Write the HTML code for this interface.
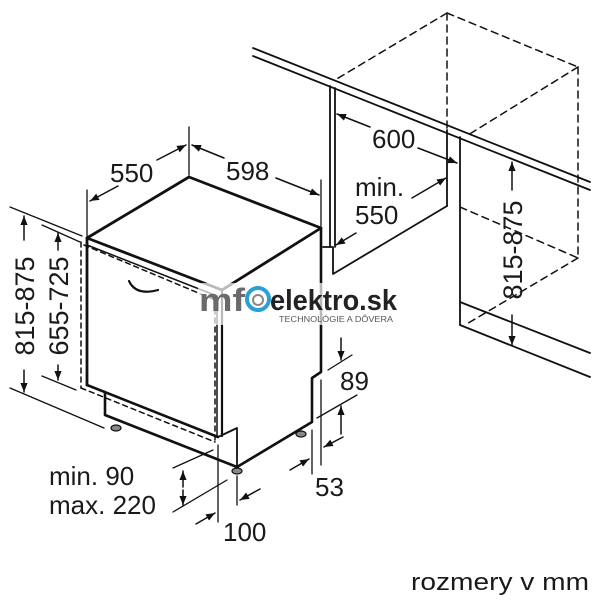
<!DOCTYPE html>
<html><head><meta charset="utf-8"><style>
html,body{margin:0;padding:0;background:#fff}
svg{display:block}
text{font-family:"Liberation Sans",sans-serif;fill:#1a1a1a}
</style></head><body>
<svg width="600" height="600" viewBox="0 0 600 600" xmlns="http://www.w3.org/2000/svg">
<defs>
<marker id="a" viewBox="0 0 10 10" refX="10" refY="5" markerWidth="9" markerHeight="9" orient="auto-start-reverse" markerUnits="userSpaceOnUse"><path d="M0,1 L10,5 L0,9 z" fill="#111"/></marker>
</defs>
<g stroke="#111" fill="none" stroke-linecap="round" stroke-linejoin="round">
<line x1="253" y1="48" x2="590" y2="182" stroke-width="1.8"/>
<line x1="253" y1="56" x2="590" y2="190" stroke-width="1.8"/>
<line x1="330" y1="86" x2="330" y2="247" stroke-width="1.8"/>
<line x1="335" y1="88" x2="335" y2="247" stroke-width="1.8"/>
<polyline points="323,247 333,247 333,274 447,206" stroke-width="1.8"/>
<line x1="447" y1="130" x2="447" y2="206" stroke-width="1.8"/>
<line x1="460" y1="137" x2="460" y2="325" stroke-width="1.8"/>
<line x1="460" y1="302" x2="590" y2="353" stroke-width="1.8"/>
<line x1="460" y1="325" x2="590" y2="377" stroke-width="1.8"/>
<g stroke-dasharray="7,5" stroke-width="1.5">
<line x1="447" y1="13" x2="335" y2="80"/>
<line x1="447" y1="13" x2="578" y2="67"/>
<line x1="447" y1="13" x2="447" y2="128"/>
<line x1="578" y1="67" x2="468" y2="135"/>
<line x1="578" y1="67" x2="578" y2="258"/>
<line x1="460" y1="207" x2="578" y2="258"/>
<line x1="578" y1="258" x2="465" y2="325"/>
</g>
<polygon points="87,238 189,177 321,228 222,290" stroke-width="2.8"/>
<line x1="87" y1="238" x2="87" y2="385" stroke-width="2.8"/>
<line x1="222" y1="290" x2="222" y2="436" stroke-width="2.2"/>
<line x1="217" y1="296" x2="217" y2="436" stroke-width="1.5"/>
<line x1="87" y1="245" x2="217" y2="296" stroke-width="1.5"/>
<line x1="87" y1="385" x2="218" y2="437" stroke-width="2.6"/>
<polyline points="321,228 321,372 312,378 312,422 237,467" stroke-width="2.6"/>
<polyline points="105,392 105,415 237,467" stroke-width="2.6"/>
<polyline points="218,437 237,428 237,466" stroke-width="1.8"/>
<g stroke-dasharray="5,4" stroke-width="1.5">
<line x1="81" y1="242" x2="81" y2="388"/>
<line x1="81" y1="388" x2="215" y2="442"/>
<line x1="215" y1="300" x2="215" y2="442"/>
<line x1="84" y1="245" x2="215" y2="300"/>
</g>
<path d="M129,281 Q136,296 158,290" stroke-width="2.2"/>
<ellipse cx="116" cy="428" rx="5" ry="3" fill="#888" stroke-width="1.2"/>
<ellipse cx="237" cy="471" rx="5" ry="3" fill="#888" stroke-width="1.2"/>
<ellipse cx="301" cy="434" rx="5" ry="3" fill="#888" stroke-width="1.2"/>
<line x1="87" y1="190" x2="87" y2="236" stroke-width="1.3"/>
<line x1="189" y1="127" x2="189" y2="175" stroke-width="1.3"/>
<line x1="321" y1="180" x2="321" y2="226" stroke-width="1.3"/>
<line x1="157" y1="160" x2="186" y2="145" stroke-width="1.5" marker-end="url(#a)"/>
<line x1="118" y1="186" x2="90" y2="201" stroke-width="1.5" marker-end="url(#a)"/>
<line x1="224" y1="158" x2="192" y2="145" stroke-width="1.5" marker-end="url(#a)"/>
<line x1="276" y1="178" x2="319" y2="195" stroke-width="1.5" marker-end="url(#a)"/>
<line x1="10" y1="207" x2="82" y2="236" stroke-width="1.3"/>
<line x1="10" y1="388" x2="104" y2="428" stroke-width="1.3"/>
<line x1="42" y1="225" x2="80" y2="242" stroke-width="1.3"/>
<line x1="42" y1="376" x2="76" y2="390" stroke-width="1.3"/>
<line x1="24" y1="240" x2="24" y2="216" stroke-width="1.5" marker-end="url(#a)"/>
<line x1="24" y1="370" x2="24" y2="392" stroke-width="1.5" marker-end="url(#a)"/>
<line x1="58" y1="250" x2="58" y2="233" stroke-width="1.5" marker-end="url(#a)"/>
<line x1="58" y1="365" x2="58" y2="380" stroke-width="1.5" marker-end="url(#a)"/>
<line x1="370" y1="127" x2="337" y2="114" stroke-width="1.5" marker-end="url(#a)"/>
<line x1="418" y1="148" x2="457" y2="163" stroke-width="1.5" marker-end="url(#a)"/>
<line x1="412" y1="198" x2="446" y2="178" stroke-width="1.5" marker-end="url(#a)"/>
<line x1="356" y1="233" x2="336" y2="245" stroke-width="1.5" marker-end="url(#a)"/>
<line x1="512" y1="190" x2="512" y2="162" stroke-width="1.5" marker-end="url(#a)"/>
<line x1="512" y1="315" x2="512" y2="345" stroke-width="1.5" marker-end="url(#a)"/>
<line x1="341" y1="338" x2="341" y2="360" stroke-width="1.5" marker-end="url(#a)"/>
<line x1="328" y1="370" x2="352" y2="355" stroke-width="1.3"/>
<line x1="317" y1="418" x2="357" y2="395" stroke-width="1.3"/>
<line x1="341" y1="434" x2="341" y2="406" stroke-width="1.5" marker-end="url(#a)"/>
<line x1="312" y1="430" x2="312" y2="474" stroke-width="1.3"/>
<line x1="321" y1="380" x2="321" y2="465" stroke-width="1.3"/>
<line x1="290" y1="470" x2="309" y2="459" stroke-width="1.5" marker-end="url(#a)"/>
<line x1="343" y1="437" x2="324" y2="447" stroke-width="1.5" marker-end="url(#a)"/>
<line x1="173" y1="468" x2="213" y2="450" stroke-width="1.3"/>
<line x1="173" y1="512" x2="227" y2="480" stroke-width="1.3"/>
<line x1="183" y1="487" x2="183" y2="471" stroke-width="1.5" marker-end="url(#a)"/>
<line x1="183" y1="490" x2="183" y2="505" stroke-width="1.5" marker-end="url(#a)"/>
<line x1="218" y1="445" x2="218" y2="522" stroke-width="1.3"/>
<line x1="237" y1="476" x2="237" y2="505" stroke-width="1.3"/>
<line x1="196" y1="524" x2="215" y2="513" stroke-width="1.5" marker-end="url(#a)"/>
<line x1="260" y1="489" x2="240" y2="500" stroke-width="1.5" marker-end="url(#a)"/>
</g>
<rect x="198" y="283" width="200" height="42" fill="#fff" opacity="0.7"/>
<text x="199" y="311" font-size="32" font-weight="bold" style="fill:#6a6a6a" textLength="46" lengthAdjust="spacingAndGlyphs">mf</text>
<circle cx="258" cy="299" r="11" fill="none" stroke="#2a9fd8" stroke-width="4"/>
<circle cx="258" cy="300" r="5" fill="none" stroke="#888" stroke-width="2"/>
<text x="270" y="310" font-size="29" font-weight="bold" style="fill:#222" textLength="127" lengthAdjust="spacingAndGlyphs">elektro.sk</text>
<text x="279" y="322" font-size="8" style="fill:#555" textLength="114" lengthAdjust="spacingAndGlyphs">TECHNOLÓGIE A DÔVERA</text>
<g font-size="26">
<text x="110" y="182">550</text>
<text x="226" y="180">598</text>
<text x="372" y="148">600</text>
<text x="355" y="196">min.</text>
<text x="355" y="224">550</text>
<text x="340" y="390">89</text>
<text x="315" y="496">53</text>
<text x="49" y="485">min. 90</text>
<text x="49" y="514">max. 220</text>
<text x="223" y="541">100</text>
<text transform="translate(34,306) rotate(-90)" text-anchor="middle" font-size="27">815-875</text>
<text transform="translate(68,306) rotate(-90)" text-anchor="middle" font-size="27">655-725</text>
<text transform="translate(522,250) rotate(-90)" text-anchor="middle" font-size="27">815-875</text>
</g>
<text x="411" y="590" font-size="24" textLength="178" lengthAdjust="spacingAndGlyphs">rozmery v mm</text>
</svg>
</body></html>
